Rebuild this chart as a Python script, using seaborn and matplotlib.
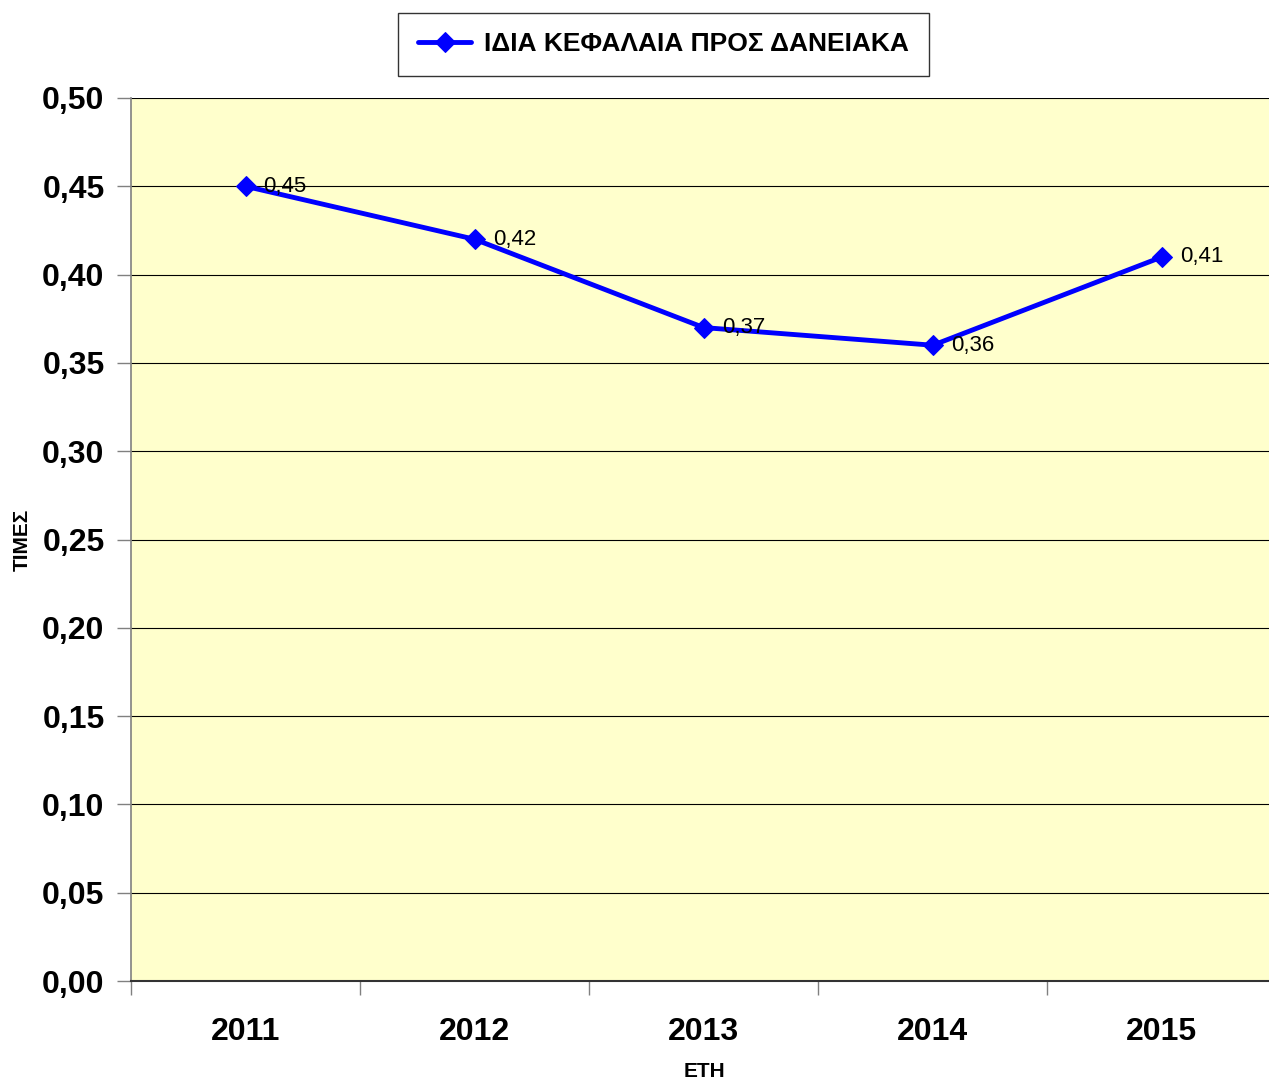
import numpy as np
import seaborn as sns
import matplotlib.pyplot as plt
from matplotlib.ticker import MultipleLocator, FixedLocator

# data
years = ['2011', '2012', '2013', '2014', '2015']
ratio = [0.45, 0.42, 0.37, 0.36, 0.41]
series_name = 'ΙΔΙΑ ΚΕΦΑΛΑΙΑ ΠΡΟΣ ΔΑΝΕΙΑΚΑ'
label_texts = ['0,45', '0,42', '0,37', '0,36', '0,41']

sns.set_style('white')
plt.rcParams['font.family'] = ['Liberation Sans', 'DejaVu Sans']
plt.rcParams['text.color'] = 'black'
plt.rcParams['axes.labelcolor'] = 'black'
plt.rcParams['xtick.color'] = 'black'
plt.rcParams['ytick.color'] = 'black'

fig = plt.figure(figsize=(12.69, 10.84), dpi=100)
ax = fig.add_axes([0.1032, 0.0950, 0.9027, 0.8146])
ax.set_facecolor('#FFFFCC')

pos = np.arange(len(years))
sns.lineplot(x=pos, y=ratio, ax=ax, color='#0000FF', linewidth=3.5,
             marker='D', markersize=10, markeredgecolor='#0000FF',
             label=series_name, zorder=3)

# data labels
for xi, yi, t in zip(pos, ratio, label_texts):
    ax.annotate(t, (xi, yi), xytext=(13, 0), textcoords='offset points',
                ha='left', va='center', fontsize=16, color='black', zorder=4)

ax.set_xlim(-0.5, 4.5)
ax.set_ylim(0, 0.5)
ax.yaxis.set_major_locator(MultipleLocator(0.05))
ax.set_yticklabels([f'{v:.2f}'.replace('.', ',') for v in ax.get_yticks()])
ax.set_xticks(pos)
ax.set_xticklabels(years)
ax.xaxis.set_minor_locator(FixedLocator(np.arange(-0.5, 5, 1)))

ax.grid(axis='y', color='black', linewidth=0.8)
ax.set_axisbelow(True)

ax.tick_params(axis='y', which='major', direction='out', length=10, width=1,
               color='#808080', labelcolor='black', left=True, labelsize=23, pad=9)
ax.tick_params(axis='x', which='major', length=0, labelsize=23, pad=26,
               labelcolor='black')
ax.tick_params(axis='x', which='minor', direction='out', length=10, width=1,
               color='#808080', bottom=True)
for lab in ax.get_xticklabels() + ax.get_yticklabels():
    lab.set_fontweight('bold')

for side in ['top', 'right']:
    ax.spines[side].set_visible(False)
ax.spines['left'].set_color('#808080')
ax.spines['left'].set_linewidth(1.2)
ax.spines['bottom'].set_color('#333333')
ax.spines['bottom'].set_linewidth(1.5)

ax.set_ylabel('ΤΙΜΕΣ', fontsize=15, fontweight='bold')
ax.yaxis.set_label_coords(-0.087, 0.5)
ax.set_xlabel('ΕΤΗ', fontsize=15, fontweight='bold')
ax.xaxis.set_label_coords((704 - 131) / (0.9027 * 1269), -0.092)

leg = ax.legend(loc='center', bbox_to_anchor=(0.523, 0.959),
                bbox_transform=fig.transFigure, frameon=True, fancybox=False,
                edgecolor='black', prop={'size': 19, 'weight': 'bold'},
                handlelength=2.0, handletextpad=0.5, borderpad=0.75,
                borderaxespad=0)
leg.get_frame().set_linewidth(1)

fig.savefig('out.png', dpi=100)
